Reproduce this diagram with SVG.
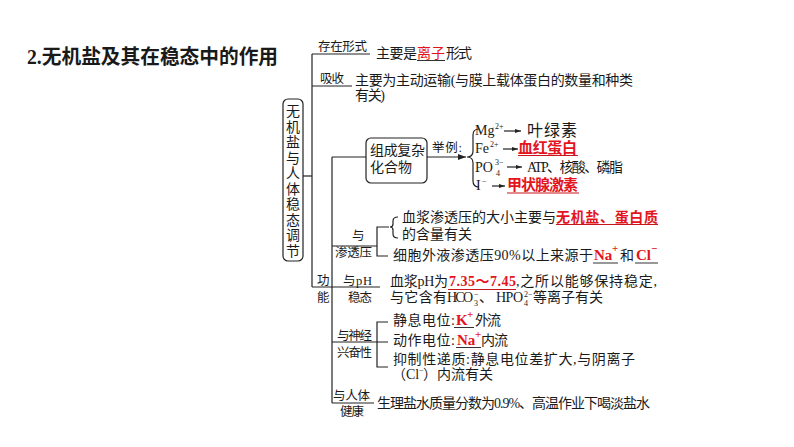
<svg xmlns="http://www.w3.org/2000/svg" width="794" height="447" viewBox="0 0 794 447">
<style>
text{font-family:"Liberation Serif","Noto Sans CJK SC",serif;fill:#1a1a1a}
.t{font-size:14px}
.l{font-size:12.5px}
.s{font-size:8px}
.m{font-size:14px}
.b{font-size:15px}
.r{fill:#e3141c;font-weight:bold}
.rn{fill:#e3141c}
.p{fill:#e3141c;font-weight:bold;font-size:11px}
.ln{stroke:#222;stroke-width:1.2;fill:none}
.ur{stroke:#c8141c;stroke-width:1}
.ub{stroke:#333;stroke-width:1}
.box{fill:#fff;stroke:#222;stroke-width:1.2}
</style>
<defs>
<marker id="ah" viewBox="0 0 8 6" refX="8" refY="3" markerWidth="8" markerHeight="6" orient="auto" markerUnits="userSpaceOnUse"><path d="M0,0 L8,3 L0,6 z" fill="#222"/></marker>
<marker id="as" viewBox="0 0 6 4" refX="6" refY="2" markerWidth="6" markerHeight="4" orient="auto" markerUnits="userSpaceOnUse"><path d="M0,0 L6,2 L0,4 z" fill="#222"/></marker>
</defs>
<rect width="794" height="447" fill="#fff"/>

<g id="title">
<text x="27" y="64" font-size="20" font-weight="bold" textLength="251" lengthAdjust="spacingAndGlyphs">2.无机盐及其在稳态中的作用</text>
</g>

<g id="connectors">
<path class="ln" d="M312 54 V287"/>
<path class="ln" d="M312 54 H370"/>
<path class="ln" d="M312 86 H352"/>
<path class="ln" d="M303 176 H312"/>
<path class="ln" d="M312 287 H380"/>
<path class="ln" d="M332 157 V403"/>
<path class="ln" d="M332 157 H366"/>
<path class="ln" d="M427 157 H466" marker-end="url(#ah)"/>
<path class="ln" d="M479 129 Q473 129 473 135 V151 Q473 157 467 157 Q473 157 473 163 V181 Q473 187 479 187"/>
<path class="ln" d="M504 131 H521" marker-end="url(#as)"/>
<path class="ln" d="M503 149 H518" marker-end="url(#as)"/>
<path class="ln" d="M507 167 H522" marker-end="url(#as)"/>
<path class="ln" d="M492 186 H505" marker-end="url(#as)"/>
<path class="ln" d="M332 246 H377"/>
<path class="ln" d="M389 227 H377 V256 H388"/>
<path class="ln" d="M398 217 Q393 217 393 221 V224 Q393 227 390 227 Q393 227 393 230 V234 Q393 238 398 238"/>
<path class="ln" d="M332 342 H388"/>
<path class="ln" d="M388 322 H377 V367 H388"/>
<path class="ln" d="M332 403 H374"/>
</g>

<g id="root">
<rect class="box" x="283" y="99" width="20" height="162" rx="5"/>
<text class="t" text-anchor="middle">
<tspan x="293" y="116">无</tspan><tspan x="293" y="131.5">机</tspan><tspan x="293" y="147">盐</tspan><tspan x="293" y="162.5">与</tspan><tspan x="293" y="178">人</tspan><tspan x="293" y="193.5">体</tspan><tspan x="293" y="209">稳</tspan><tspan x="293" y="224.5">态</tspan><tspan x="293" y="240">调</tspan><tspan x="293" y="255.5">节</tspan>
</text>
</g>

<g id="form">
<text class="l" x="318" y="51" textLength="49">存在形式</text>
<text class="t" x="376" y="58" textLength="41">主要是</text>
<text class="t rn" x="417" y="58" textLength="28">离子</text>
<line class="ub" x1="417" y1="60.5" x2="445" y2="60.5"/>
<text class="t" x="446" y="58" textLength="26">形式</text>
</g>

<g id="absorb">
<text class="l" x="320" y="83" textLength="24">吸收</text>
<text class="t" x="355" y="85" textLength="278">主要为主动运输(与膜上载体蛋白的数量和种类</text>
<text class="t" x="355" y="100" textLength="30">有关)</text>
</g>

<g id="compound">
<rect class="box" x="366" y="138" width="61" height="45" rx="5"/>
<text class="t" x="370" y="155" textLength="55">组成复杂</text>
<text class="t" x="370" y="172" textLength="42">化合物</text>
<text class="l" x="432" y="152" textLength="30">举例:</text>
<text class="m" x="475" y="135">Mg</text><text class="s" x="495" y="129">2+</text>
<text x="527" y="136" style="font-size:16px" textLength="50">叶绿素</text>
<text class="m" x="475" y="153">Fe</text><text class="s" x="490" y="147">2+</text>
<text class="b r" x="518" y="153" textLength="59">血红蛋白</text>
<line class="ur" x1="518" y1="155.5" x2="578" y2="155.5"/>
<text class="m" x="475" y="172">PO</text><text class="s" x="495" y="165">3−</text><text class="s" x="496" y="176">4</text>
<text class="t" x="527" y="172" textLength="96">ATP、核酸、磷脂</text>
<text class="m" x="476" y="190">I</text><text class="s" x="482" y="184">−</text>
<text class="b r" x="507" y="190" textLength="71">甲状腺激素</text>
<line class="ur" x1="507" y1="193" x2="579" y2="193"/>
</g>

<g id="osmotic">
<text class="l" x="352" y="240">与</text>
<text class="l" x="335" y="257" textLength="37">渗透压</text>
<text class="t" x="402" y="222" textLength="154">血浆渗透压的大小主要与</text>
<text class="t r" x="556" y="222" textLength="102">无机盐、蛋白质</text>
<line class="ur" x1="556" y1="224.5" x2="658" y2="224.5"/>
<text class="t" x="402" y="239" textLength="70">的含量有关</text>
<text class="t" x="393" y="260" textLength="200">细胞外液渗透压90%以上来源于</text>
<text class="b r" x="594" y="260">Na</text><text class="p" x="612" y="252">+</text>
<line class="ub" x1="593" y1="263" x2="618" y2="263"/>
<text class="t" x="620" y="260">和</text>
<text class="b r" x="636" y="260">Cl</text><text class="p" x="651" y="252">−</text>
<line class="ub" x1="635" y1="263" x2="658" y2="263"/>
</g>

<g id="ph">
<text class="l" x="317" y="285">功</text>
<text class="l" x="317" y="302">能</text>
<text class="l" x="343" y="285" textLength="29">与pH</text>
<text class="l" x="348" y="302" textLength="24">稳态</text>
<text class="t" x="390" y="286" textLength="58">血浆pH为</text>
<text class="t r" x="449" y="286" textLength="67">7.35～7.45</text>
<line class="ur" x1="448" y1="289.5" x2="516" y2="289.5"/>
<text class="t" x="516" y="286" textLength="141">,之所以能够保持稳定,</text>
<text class="t" x="390" y="302" textLength="57">与它含有</text>
<text class="m" x="447" y="302" textLength="26">HCO</text><text class="s" x="474" y="306">3</text><text class="s" x="474" y="297">−</text>
<text class="t" x="479" y="302">、</text>
<text class="m" x="496" y="302" textLength="27">HPO</text><text class="s" x="524" y="306">4</text><text class="s" x="524" y="297">2−</text>
<text class="t" x="533" y="302" textLength="70">等离子有关</text>
</g>

<g id="nerve">
<text class="l" x="337" y="340" textLength="35">与神经</text>
<text class="l" x="337" y="357" textLength="35">兴奋性</text>
<text class="t" x="393" y="325" textLength="62">静息电位:</text>
<text class="b r" x="456" y="325">K</text><text class="p" x="467" y="318">+</text>
<line class="ub" x1="454" y1="327.5" x2="474" y2="327.5"/>
<text class="t" x="475" y="325" textLength="26">外流</text>
<text class="t" x="393" y="345" textLength="62">动作电位:</text>
<text class="b r" x="457" y="345">Na</text><text class="p" x="475" y="338">+</text>
<line class="ub" x1="456" y1="347.5" x2="481" y2="347.5"/>
<text class="t" x="481" y="345" textLength="27">内流</text>
<text class="t" x="393" y="364" textLength="242">抑制性递质:静息电位差扩大,与阴离子</text>
<text class="t" x="392" y="379">（Cl</text><text class="s" x="419" y="373">−</text>
<text class="t" x="423" y="379" textLength="70">）内流有关</text>
</g>

<g id="health">
<text class="l" x="333" y="400" textLength="37">与人体</text>
<text class="l" x="340" y="416" textLength="24">健康</text>
<text class="t" x="377" y="408" textLength="273">生理盐水质量分数为0.9%、高温作业下喝淡盐水</text>
</g>
</svg>
